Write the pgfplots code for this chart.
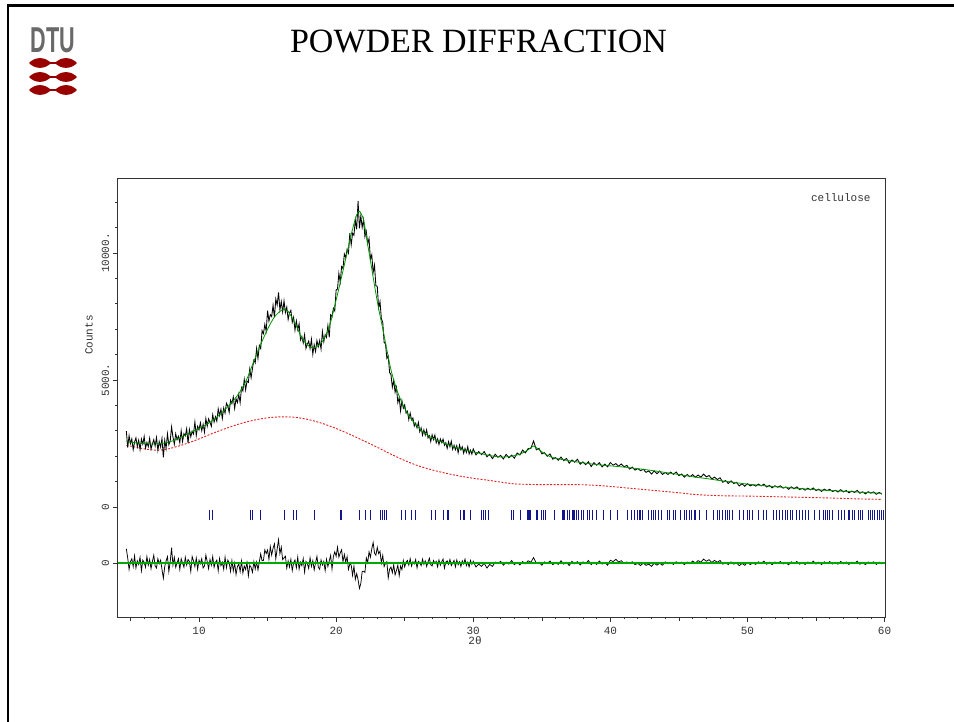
\documentclass[border=0pt]{standalone}
\usepackage{pgfplots}
\pgfplotsset{compat=1.18}
\usepackage{pgfplotstable}
\usepackage{fontspec}
\setmainfont{Liberation Serif}
\newfontfamily\plotfont{Liberation Mono}
\newfontfamily\logofont{Liberation Sans}
\definecolor{calcgreen}{RGB}{0,150,0}
\definecolor{zerogreen}{RGB}{0,170,0}
\definecolor{bgred}{RGB}{225,35,35}
\definecolor{ticknavy}{RGB}{20,20,140}
\definecolor{dtured}{RGB}{153,0,0}
\definecolor{dtugray}{RGB}{105,105,105}

\pgfplotstableread{
x y
4.7 2990
4.8 2339
4.9 2809
5.0 2494
5.1 2684
5.2 2258
5.3 2560
5.4 2722
5.5 2380
5.6 2627
5.7 2258
5.8 2673
5.9 2472
6.0 2775
6.1 2324
6.2 2545
6.3 2374
6.4 2707
6.5 2284
6.6 2481
6.7 2650
6.8 2399
6.9 2736
7.0 2233
7.1 2576
7.2 2359
7.3 2702
7.4 1950
7.5 2632
7.6 2310
7.7 2884
7.8 2450
7.9 2604
8.0 3150
8.1 2752
8.2 2470
8.3 2880
8.4 2650
8.5 2784
8.6 2530
8.7 3004
8.8 2582
8.9 2888
9.0 2802
9.1 3080
9.2 2518
9.3 3048
9.4 2766
9.5 2988
9.6 2874
9.7 3348
9.8 2814
9.9 3176
10.0 3034
10.1 3314
10.2 3006
10.3 3258
10.4 2950
10.5 3482
10.6 3182
10.7 3470
10.8 3338
10.9 3178
11.0 3634
11.1 3342
11.2 3554
11.3 3374
11.4 3866
11.5 3602
11.6 3850
11.7 3482
11.8 3898
11.9 3698
12.0 4086
12.1 3976
12.2 3726
12.3 4204
12.4 4066
12.5 4332
12.6 3880
12.7 4262
12.8 4112
12.9 4438
13.0 4112
13.1 4692
13.2 4568
13.3 5020
13.4 4608
13.5 4964
13.6 4910
13.7 5432
13.8 5090
13.9 5452
14.0 5782
14.1 5676
14.2 6242
14.3 5848
14.4 6364
14.5 6240
14.6 6944
14.7 6826
14.8 7188
14.9 6924
15.0 7734
15.1 7318
15.2 7574
15.3 7496
15.4 7944
15.5 7464
15.6 8188
15.7 7952
15.8 8450
15.9 7764
16.0 8086
16.1 7676
16.2 8112
16.3 7652
16.4 7868
16.5 7380
16.6 7642
16.7 7744
16.8 7270
16.9 7468
17.0 6962
17.1 7322
17.2 6978
17.3 7210
17.4 6578
17.5 6714
17.6 6460
17.7 6782
17.8 6240
17.9 6402
18.0 6532
18.1 6232
18.2 6604
18.3 6016
18.4 6388
18.5 6120
18.6 6552
18.7 6312
18.8 6552
18.9 6216
19.0 6904
19.1 6508
19.2 6784
19.3 6676
19.4 7144
19.5 6684
19.6 7566
19.7 7488
19.8 7826
19.9 7716
20.0 8542
20.1 8584
20.2 9198
20.3 8852
20.4 9466
20.5 9390
20.6 9964
20.7 9816
20.8 10148
20.9 10004
21.0 10780
21.1 10322
21.2 10776
21.3 10698
21.4 11304
21.5 10934
21.6 12050
21.7 10970
21.8 11461
21.9 11003
22.0 11316
22.1 10640
22.2 10850
22.3 10364
22.4 10574
22.5 9746
22.6 9932
22.7 9232
22.8 9520
22.9 8706
23.0 8690
23.1 7838
23.2 8088
23.3 7414
23.4 7272
23.5 6484
23.6 6426
23.7 5850
23.8 5946
23.9 5292
24.0 5214
24.1 4714
24.2 4982
24.3 4514
24.4 4718
24.5 4108
24.6 4304
24.7 3782
24.8 4188
24.9 3890
25.0 4020
25.1 3694
25.2 3768
25.3 3442
25.4 3696
25.5 3430
25.6 3506
25.7 3182
25.8 3298
25.9 3114
26.0 3330
26.1 2962
26.2 3114
26.3 2826
26.4 3038
26.5 2830
26.6 3036
26.7 2722
26.8 2808
26.9 2574
27.0 2840
27.1 2656
27.2 2832
27.3 2528
27.4 2684
27.5 2460
27.6 2678
27.7 2536
27.8 2674
27.9 2432
28.0 2530
28.1 2310
28.2 2570
28.3 2370
28.4 2590
28.5 2270
28.6 2432
28.7 2254
28.8 2416
28.9 2138
29.0 2440
29.1 2246
29.2 2372
29.3 2118
29.4 2304
29.5 2150
29.6 2378
29.7 2086
29.8 2234
29.9 2082
30.0 2290
30.2 2050
30.4 2182
30.6 2062
30.8 2182
31.0 1978
31.2 2078
31.4 1902
31.6 2078
31.8 1958
32.0 2030
32.2 1890
32.4 2074
32.6 1940
32.8 2040
33.0 1924
33.2 2124
33.4 2048
33.6 2238
33.8 2130
34.0 2298
34.2 2301
34.4 2600
34.6 2253
34.8 2310
35.0 2091
35.2 2136
35.4 1997
35.6 2086
35.8 1883
36.0 1944
36.2 1840
36.4 1964
36.6 1824
36.8 1912
37.0 1724
37.2 1852
37.4 1764
37.6 1880
37.8 1684
38.0 1776
38.2 1666
38.4 1784
38.6 1590
38.8 1744
39.0 1646
39.2 1744
39.4 1578
39.6 1688
39.8 1582
40.0 1752
40.2 1645
40.4 1707
40.6 1607
40.8 1694
41.0 1583
41.2 1639
41.4 1492
41.6 1570
41.8 1450
42.0 1515
42.2 1428
42.4 1485
42.6 1363
42.8 1421
43.0 1299
43.2 1418
43.4 1312
43.6 1414
43.8 1282
44.0 1358
44.2 1281
44.4 1373
44.6 1285
44.8 1377
45.0 1235
45.2 1298
45.4 1172
45.6 1280
45.8 1190
46.0 1273
46.2 1171
46.4 1259
46.6 1174
46.8 1296
47.0 1184
47.2 1239
47.4 1105
47.6 1178
47.8 1079
48.0 1151
48.2 972
48.4 1039
48.6 926
48.8 1029
49.0 922
49.2 970
49.4 829
49.6 914
49.8 819
50.0 916
50.2 832
50.4 881
50.6 821
50.8 902
51.0 829
51.2 903
51.4 788
51.6 848
51.8 754
52.0 835
52.2 778
52.4 833
52.6 741
52.8 789
53.0 697
53.2 794
53.4 716
53.6 792
53.8 686
54.0 734
54.2 663
54.4 739
54.6 675
54.8 751
55.0 645
55.2 702
55.4 612
55.6 704
55.8 642
56.0 699
56.2 609
56.4 659
56.6 590
56.8 682
57.0 592
57.2 649
57.4 559
57.6 630
57.8 575
58.0 653
58.2 542
58.4 599
58.6 516
58.8 601
59.0 546
59.2 597
59.4 501
59.6 573
59.8 505
}\obsdata

\pgfplotstableread{
x y
4.7 2570
5.0 2550
5.5 2520
6.0 2495
6.5 2480
7.0 2485
7.5 2520
8.0 2590
8.5 2700
9.0 2830
9.5 2960
10.0 3090
10.5 3230
11.0 3410
11.5 3630
12.0 3890
12.5 4180
13.0 4550
13.5 5050
14.0 5740
14.5 6400
15.0 7000
15.5 7480
16.0 7740
16.3 7770
16.5 7700
17.0 7250
17.5 6650
18.0 6340
18.3 6260
18.5 6280
19.0 6520
19.5 7100
20.0 8150
20.5 9300
21.0 10500
21.3 11150
21.5 11500
21.7 11650
22.0 11300
22.25 10500
22.5 9700
23.0 8100
23.5 6750
24.0 5400
24.5 4500
25.0 3880
25.5 3450
26.0 3130
26.5 2890
27.0 2720
27.5 2600
28.0 2490
28.5 2390
29.0 2300
29.5 2230
30.0 2170
30.5 2110
31.0 2050
31.5 2000
32.0 1970
32.5 1980
33.0 2020
33.5 2100
34.0 2250
34.4 2400
34.8 2250
35.2 2100
35.6 1990
36.0 1920
37.0 1820
38.0 1740
39.0 1670
40.0 1620
41.0 1570
42.0 1510
43.0 1440
44.0 1360
45.0 1280
46.0 1190
47.0 1120
48.0 1040
49.0 970
50.0 900
51.0 850
52.0 800
53.0 760
54.0 720
55.0 680
56.0 650
57.0 620
58.0 590
59.0 560
59.8 540
}\calcdata

\pgfplotstableread{
x y
4.7 2420
5.0 2400
5.5 2340
6.0 2290
6.5 2250
7.0 2240
7.5 2260
8.0 2320
9.0 2480
10.0 2680
11.0 2900
12.0 3100
13.0 3280
14.0 3420
15.0 3510
16.0 3550
17.0 3530
18.0 3440
19.0 3290
20.0 3090
21.0 2860
22.0 2610
23.0 2350
24.0 2080
25.0 1830
26.0 1620
27.0 1460
28.0 1330
29.0 1220
30.0 1130
31.0 1060
32.0 980
33.0 910
34.0 890
35.0 880
36.0 880
37.0 880
38.0 875
39.0 850
40.0 810
41.0 760
42.0 710
43.0 660
44.0 610
45.0 560
46.0 500
47.0 465
48.0 445
49.0 435
50.0 430
52.0 405
54.0 380
56.0 355
58.0 320
59.8 300
}\bgdata

\pgfplotstableread{
x y
4.7 560
4.8 196
4.9 -252
5.0 56
5.1 168
5.2 -140
5.3 280
5.4 -196
5.5 84
5.6 -56
5.7 224
5.8 -308
5.9 112
6.0 28
6.1 -168
6.2 252
6.3 -84
6.4 140
6.5 -224
6.6 56
6.7 308
6.8 -112
6.9 -196
7.0 168
7.1 -28
7.2 112
7.3 -252
7.4 -600
7.5 -140
7.6 84
7.7 252
7.8 -336
7.9 56
8.0 600
8.1 -84
8.2 224
8.3 -168
8.4 0
8.5 168
8.6 -252
8.7 168
8.8 0
8.9 -168
9.0 224
9.1 -84
9.2 140
9.3 56
9.4 -336
9.5 252
9.6 84
9.7 -140
9.8 196
9.9 -252
10.0 112
10.1 -28
10.2 168
10.3 -196
10.4 -112
10.5 308
10.6 56
10.7 -224
10.8 140
10.9 -84
11.0 252
11.1 -168
11.2 28
11.3 112
11.4 -308
11.5 174
11.6 -106
11.7 34
11.8 -246
11.9 230
12.0 -190
12.1 118
12.2 6
12.3 -332
12.4 96
12.5 -312
12.6 -4
12.7 -452
12.8 -144
12.9 -32
13.0 -340
13.1 80
13.2 -396
13.3 -116
13.4 -256
13.5 24
13.6 -508
13.7 -88
13.8 -172
13.9 -368
14.0 52
14.1 -234
14.2 40
14.3 -274
14.4 56
14.5 358
14.6 88
14.7 104
14.8 518
14.9 372
15.0 512
15.1 148
15.2 646
15.3 310
15.4 584
15.5 752
15.6 164
15.7 556
15.8 920
15.9 366
16.0 624
16.1 132
16.2 200
16.3 268
16.4 -202
16.5 84
16.6 -162
16.7 146
16.8 -302
16.9 6
17.0 118
17.1 -190
17.2 230
17.3 -246
17.4 34
17.5 -106
17.6 174
17.7 -358
17.8 62
17.9 -22
18.0 -218
18.1 202
18.2 -134
18.3 90
18.4 -274
18.5 6
18.6 258
18.7 -162
18.8 -246
18.9 118
19.0 -78
19.1 62
19.2 -302
19.3 146
19.4 -140
19.5 84
19.6 302
19.7 -236
19.8 256
19.9 440
20.0 266
20.1 624
20.2 232
20.3 400
20.4 518
20.5 48
20.6 334
20.7 38
20.8 246
20.9 -252
21.0 -44
21.1 -82
21.2 -490
21.3 -120
21.4 -646
21.5 -416
21.6 -656
21.7 -1000
21.8 -808
21.9 -338
22.0 -322
22.1 -368
22.2 202
22.3 16
22.4 440
22.5 226
22.6 556
22.7 808
22.8 388
22.9 304
23.0 618
23.1 372
23.2 462
23.3 -2
23.4 296
23.5 -140
23.6 -16
23.7 52
23.8 -586
23.9 -244
24.0 -160
24.1 -384
24.2 -76
24.3 -468
24.4 -300
24.5 -82
24.6 -502
24.7 -116
24.8 -262
24.9 96
25.0 -153
25.1 34
25.2 102
25.3 -85
25.4 170
25.5 -119
25.6 51
25.7 -34
25.8 136
25.9 -187
26.0 68
26.1 17
26.2 -102
26.3 153
26.4 -51
26.5 85
26.6 -136
26.7 34
26.8 187
26.9 -68
27.0 -119
27.1 102
27.2 -17
27.3 68
27.4 -153
27.5 119
27.6 -85
27.7 51
27.8 153
27.9 -204
28.0 34
28.1 85
28.2 -51
28.3 136
28.4 -102
28.5 0
28.6 102
28.7 -153
28.8 119
28.9 -68
29.0 51
29.1 -136
29.2 85
29.3 -34
29.4 153
29.5 -102
29.6 34
29.7 -153
29.8 102
29.9 -51
30.0 68
30.2 -157
30.4 -45
30.6 -133
30.8 -12
31.0 -199
31.2 -56
31.4 -135
31.6 37
31.8 -22
32.0 66
32.2 -88
32.4 33
32.6 -44
32.8 99
33.0 -66
33.2 22
33.4 -77
33.6 55
33.8 -33
34.0 88
34.2 28
34.4 216
34.6 -5
34.8 33
35.0 -88
35.2 44
35.4 -22
35.6 77
35.8 -66
36.0 11
36.2 -55
36.4 88
36.6 -44
36.8 22
37.0 -99
37.2 66
37.4 -33
37.6 55
37.8 -77
38.0 44
38.2 -22
38.4 99
38.6 -66
38.8 33
39.0 -55
39.2 77
39.4 -44
39.6 22
39.8 -88
40.0 108
40.2 56
40.4 144
40.6 40
40.8 92
41.0 -16
41.2 40
41.4 -16
41.6 48
41.8 -64
42.0 -16
42.2 -100
42.4 -4
42.6 -92
42.8 -44
43.0 -132
43.2 -12
43.4 -84
43.6 -10
43.8 -88
44.0 44
44.2 -32
44.4 24
44.6 -56
44.8 48
45.0 -16
45.2 32
45.4 -64
45.6 40
45.8 -24
46.0 76
46.2 0
46.4 94
46.6 32
46.8 154
47.0 68
47.2 130
47.4 24
47.6 102
47.8 26
48.0 102
48.2 -48
48.4 24
48.6 -64
48.8 40
49.0 -46
49.2 8
49.4 -106
49.6 -18
49.8 -90
50.0 24
50.2 -62
50.4 4
50.6 -56
50.8 48
51.0 -24
51.2 72
51.4 -48
51.6 32
51.8 -64
52.0 40
52.2 -16
52.4 56
52.6 -40
52.8 24
53.0 -72
53.2 48
53.4 -32
53.6 64
53.8 -48
54.0 16
54.2 -56
54.4 40
54.6 -24
54.8 72
55.0 -40
55.2 32
55.4 -64
55.6 48
55.8 -16
56.0 56
56.2 -40
56.4 24
56.6 -48
56.8 64
57.0 -32
57.2 40
57.4 -56
57.6 32
57.8 -24
58.0 72
58.2 -48
58.4 24
58.6 -64
58.8 40
59.0 -16
59.2 48
59.4 -56
59.6 32
59.8 -40
}\diffdata

\pgfplotstableread{
x y
10.73 -315
10.97 -315
13.75 -315
13.92 -315
14.48 -315
16.26 -315
16.90 -315
17.14 -315
18.43 -315
20.29 -315
20.41 -315
21.68 -315
22.12 -315
22.53 -315
23.24 -315
23.36 -315
23.51 -315
23.70 -315
24.77 -315
25.09 -315
25.50 -315
25.75 -315
26.97 -315
27.21 -315
27.82 -315
28.11 -315
28.19 -315
29.04 -315
29.28 -315
29.36 -315
29.77 -315
30.58 -315
30.75 -315
30.92 -315
31.14 -315
32.77 -315
32.94 -315
33.43 -315
33.97 -315
34.04 -315
34.11 -315
34.19 -315
34.60 -315
34.70 -315
35.01 -315
35.09 -315
35.26 -315
35.92 -315
36.48 -315
36.55 -315
36.62 -315
36.84 -315
37.04 -315
37.21 -315
37.33 -315
37.40 -315
37.53 -315
37.70 -315
37.87 -315
38.06 -315
38.31 -315
38.50 -315
38.67 -315
38.99 -315
39.48 -315
40.01 -315
40.55 -315
41.28 -315
41.55 -315
41.77 -315
41.96 -315
42.09 -315
42.21 -315
42.33 -315
42.77 -315
42.99 -315
43.13 -315
43.31 -315
43.50 -315
43.74 -315
44.16 -315
44.31 -315
44.57 -315
44.72 -315
45.13 -315
45.38 -315
45.55 -315
45.74 -315
45.94 -315
46.11 -315
46.23 -315
46.48 -315
47.01 -315
47.50 -315
47.82 -315
47.99 -315
48.18 -315
48.38 -315
48.55 -315
48.67 -315
48.91 -315
49.45 -315
49.69 -315
50.01 -315
50.18 -315
50.38 -315
50.82 -315
51.16 -315
51.35 -315
51.89 -315
52.08 -315
52.33 -315
52.57 -315
52.77 -315
52.94 -315
53.11 -315
53.30 -315
53.55 -315
53.79 -315
53.99 -315
54.23 -315
54.47 -315
54.89 -315
55.25 -315
55.55 -315
55.69 -315
55.86 -315
55.99 -315
56.18 -315
56.60 -315
56.84 -315
57.08 -315
57.33 -315
57.45 -315
57.64 -315
57.81 -315
58.06 -315
58.23 -315
58.42 -315
58.79 -315
58.96 -315
59.11 -315
59.28 -315
59.45 -315
59.64 -315
59.77 -315
59.89 -315
}\reflticks

\begin{document}
\begin{tikzpicture}
\useasboundingbox (0pt,0pt) rectangle (954pt,721pt);
% slide frame
\draw[line width=2.5pt] (8pt,-2pt) -- (8pt,715.5pt) -- (956pt,715.5pt);
% DTU logo
\node[font=\logofont\bfseries\fontsize{36}{36}\selectfont, text=dtugray, inner sep=0pt] at (53pt,681pt) {\scalebox{0.6}[1]{DTU}};
\foreach \yy in {658,644,631}{
  \fill[dtured] (29pt,\yy pt) .. controls (35pt,\yy pt+6.5pt) and (45pt,\yy pt+6.5pt) .. (51pt,\yy pt) .. controls (45pt,\yy pt-6.5pt) and (35pt,\yy pt-6.5pt) .. (29pt,\yy pt) -- cycle;
  \fill[dtured] (55pt,\yy pt) .. controls (61pt,\yy pt+6.5pt) and (71pt,\yy pt+6.5pt) .. (77pt,\yy pt) .. controls (71pt,\yy pt-6.5pt) and (61pt,\yy pt-6.5pt) .. (55pt,\yy pt) -- cycle;
  \fill[dtured] (49pt,\yy pt-1.3pt) rectangle (57pt,\yy pt+1.3pt);
}
% title
\node[font=\fontsize{34}{34}\selectfont, inner sep=0pt] at (478.5pt,679pt) {POWDER DIFFRACTION};

% difference curve (own vertical offset), drawn first
\begin{axis}[
  at={(117.7pt,104pt)}, anchor=south west,
  scale only axis, width=767.3pt, height=439pt,
  xmin=4.07, xmax=60.03, ymin=-2126, ymax=15158,
  hide axis,
]
\addplot[black, line width=0.75pt] table[x=x,y=y] {\diffdata};
\end{axis}

\begin{axis}[
  at={(117.7pt,104pt)}, anchor=south west,
  scale only axis, width=767.3pt, height=439pt,
  xmin=4.07, xmax=60.03, ymin=-4331, ymax=12953,
  scaled y ticks=false, scaled x ticks=false,
  axis line style={line width=0.8pt, black!80},
  every tick/.style={black!80, line width=0.6pt},
  tick align=outside, tick pos=left,
  major tick length=5pt, minor tick length=2.5pt,
  xtick={10,20,30,40,50,60}, xticklabels={10,20,30,40,50,60},
  minor xtick={5,6,...,60},
  extra x ticks={5,15,25,35,45,55}, extra x tick labels={},
  extra x tick style={major tick length=4pt},
  ytick={-2205,0,5000,10000}, yticklabels={0,0,5000.,10000.},
  minor ytick={1000,2000,3000,4000,6000,7000,8000,9000,11000,12000},
  ticklabel style={font=\plotfont\fontsize{11}{11}\selectfont, text=black!80},
  yticklabel style={rotate=90, anchor=south},
  xticklabel style={yshift=-2pt},
  clip=true,
]
\addplot[bgred, dash pattern=on 2pt off 1.5pt, line width=0.9pt, smooth, tension=0.5] table[x=x,y=y] {\bgdata};
\addplot[black, line width=0.85pt] table[x=x,y=y] {\obsdata};
\addplot[calcgreen, line width=0.8pt, smooth, tension=0.5] table[x=x,y=y] {\calcdata};
\addplot[zerogreen, line width=1.2pt] coordinates {(4.07,-2205) (60.03,-2205)};
\addplot[only marks, mark=|, mark size=5pt, ticknavy, mark options={line width=0.9pt}] table[x=x,y=y] {\reflticks};
\end{axis}

\node[font=\plotfont\fontsize{11}{11}\selectfont, anchor=east, text=black!80] at (874pt,523pt) {cellulose};
\node[font=\plotfont\fontsize{11}{11}\selectfont, rotate=90, text=black!80] at (89pt,386pt) {Counts};
\node[font=\plotfont\fontsize{11}{11}\selectfont, text=black!80] at (475pt,80pt) {2θ};
\end{tikzpicture}
\end{document}
